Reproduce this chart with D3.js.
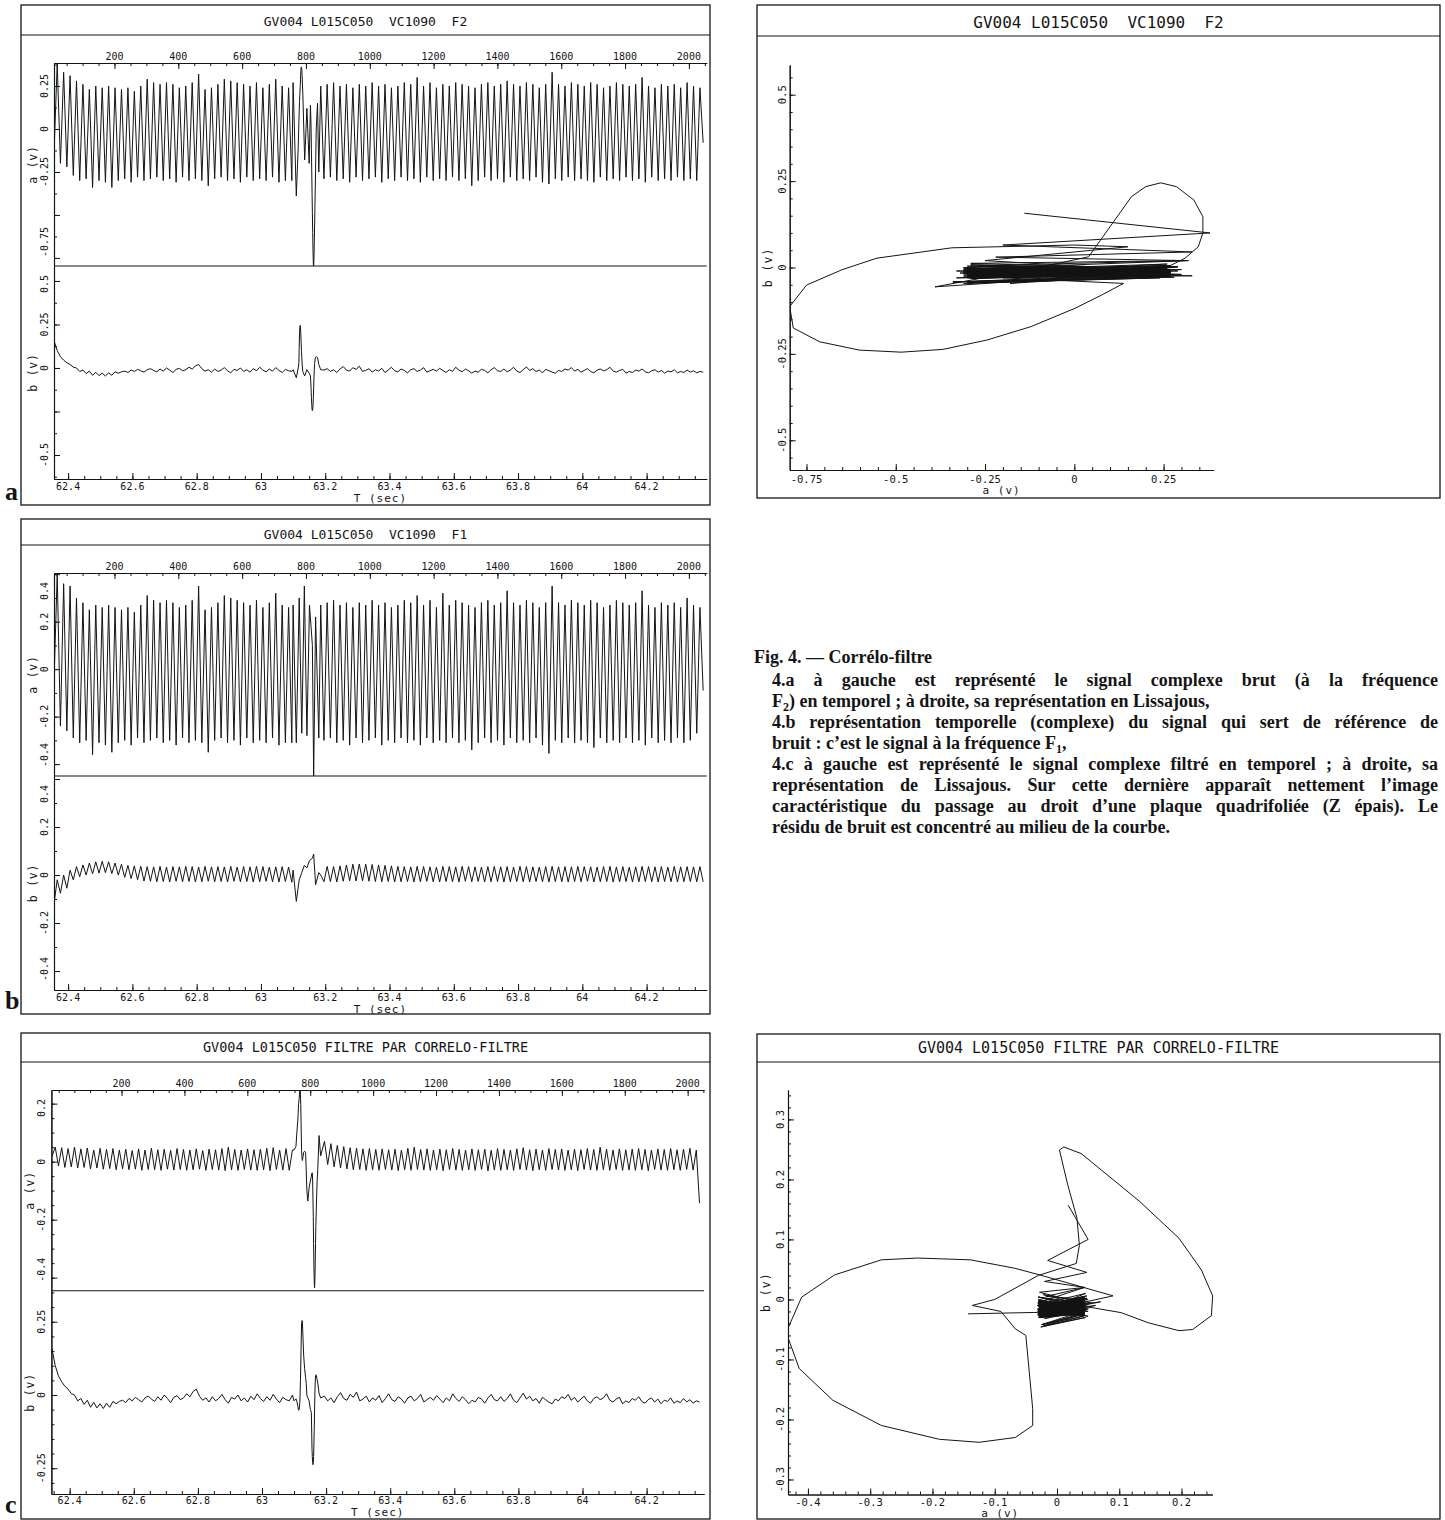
<!DOCTYPE html>
<html><head><meta charset="utf-8">
<script src="https://cdn.jsdelivr.net/npm/d3@7"></script>
<style>
body{margin:0;background:#fff;}
svg{display:block;}
.mono{font-family:"DejaVu Sans Mono","Liberation Mono",monospace;fill:#141414;}
</style></head><body>
<script>
// ================= DATA =================
const GRID_START_AB = 62.356, GRID_START_C = 62.345, GRID_STEP = 0.01;

// ---- 4.a : raw complex signal at F2 ----
const aF2Start = -0.14;
const aF2Peaks = [0.38,0.33,0.31,0.28,0.26,0.23,0.25,0.24,0.25,0.24,
 0.23,0.24,0.22,0.25,0.29,0.27,0.26,0.27,0.26,0.24,
 0.25,0.27,0.32,0.23,0.24,0.26,0.29,0.28,0.27,0.26,
 0.25,0.27,0.24,0.26,0.29,0.25,0.24,0.27,0.25,0.25,
 0.25,0.25,0.26,0.27,0.25,0.26,0.24,0.26,0.25,0.27,
 0.25,0.26,0.24,0.25,0.27,0.26,0.30,0.25,0.27,0.24,
 0.26,0.25,0.27,0.26,0.25,0.24,0.26,0.27,0.25,0.26,
 0.28,0.26,0.25,0.27,0.26,0.24,0.26,0.33,0.26,0.25,
 0.27,0.26,0.25,0.27,0.26,0.24,0.25,0.27,0.26,0.25,
 0.26,0.30,0.25,0.24,0.26,0.25,0.26,0.24,0.27,0.25,0.24];
const aF2Troughs = [-0.20,-0.22,-0.27,-0.30,-0.29,-0.34,-0.30,-0.31,-0.34,-0.30,
 -0.29,-0.31,-0.28,-0.30,-0.29,-0.28,-0.30,-0.29,-0.31,-0.28,
 -0.30,-0.29,-0.30,-0.33,-0.29,-0.28,-0.30,-0.29,-0.31,-0.28,
 -0.30,-0.29,-0.30,-0.28,-0.31,-0.30,-0.30,-0.30,-0.30,-0.30,
 -0.30,-0.29,-0.28,-0.30,-0.29,-0.31,-0.28,-0.30,-0.29,-0.28,
 -0.31,-0.29,-0.30,-0.28,-0.30,-0.29,-0.31,-0.28,-0.30,-0.29,
 -0.30,-0.28,-0.30,-0.29,-0.33,-0.30,-0.28,-0.30,-0.29,-0.31,
 -0.28,-0.30,-0.29,-0.30,-0.28,-0.31,-0.32,-0.29,-0.30,-0.28,
 -0.30,-0.29,-0.30,-0.31,-0.28,-0.30,-0.29,-0.30,-0.28,-0.30,
 -0.29,-0.31,-0.28,-0.30,-0.29,-0.30,-0.28,-0.30,-0.29,-0.30,-0.08];
const bF2 = [0.157,0.10,0.065,0.045,0.03,0.02,0.005,0,-0.02,-0.012,
 -0.032,-0.018,-0.042,-0.025,-0.044,-0.03,-0.046,-0.028,-0.042,-0.022,
 -0.03,-0.022,-0.018,-0.026,-0.012,-0.02,-0.008,-0.016,-0.024,-0.01,
 -0.004,-0.014,-0.022,-0.006,-0.018,0,-0.012,-0.026,-0.008,-0.002,
 -0.016,-0.01,0.004,-0.006,0.012,0.02,-0.004,-0.018,-0.01,-0.024,
 -0.006,-0.02,-0.012,0.002,-0.016,-0.028,-0.008,-0.014,0,-0.02,
 -0.01,-0.024,-0.004,-0.016,0.004,-0.012,-0.022,-0.006,-0.018,0.002,
 -0.014,-0.026,-0.008,-0.016,-0.02,0,0,0,0,0,
 0,0,0,0,-0.012,-0.004,-0.02,-0.01,-0.026,-0.006,
 0.008,-0.012,-0.018,0.002,-0.008,0.01,-0.02,-0.014,-0.004,-0.024,
 -0.01,-0.018,-0.002,-0.026,-0.012,0.004,-0.016,-0.022,-0.006,-0.014,
 -0.028,-0.01,-0.004,-0.02,-0.012,0.002,-0.024,-0.016,-0.008,-0.018,
 -0.002,-0.014,-0.026,-0.01,-0.02,0.004,-0.012,-0.022,-0.006,-0.016,
 -0.03,-0.018,-0.024,-0.008,-0.014,-0.028,-0.01,0.002,-0.016,-0.02,
 -0.006,-0.022,-0.012,0.004,-0.018,-0.026,-0.01,0.006,-0.014,-0.004,
 -0.02,-0.012,-0.028,-0.008,-0.016,-0.024,-0.03,-0.014,-0.02,-0.006,
 -0.012,0.002,-0.018,-0.008,-0.024,-0.014,-0.004,-0.02,-0.028,-0.012,
 -0.006,-0.016,-0.01,0.004,-0.018,-0.024,-0.014,-0.008,-0.03,-0.02,
 -0.026,-0.012,-0.018,-0.006,-0.022,-0.028,-0.016,-0.01,-0.024,-0.014,
 -0.03,-0.018,-0.022,-0.01,-0.028,-0.02,-0.026,-0.012,-0.024,-0.016,
 -0.028,-0.02,-0.024];
const evF2T = [63.100,63.110,63.116,63.118,63.119,63.120,63.121,63.122,63.123,63.124,63.125,63.126,63.127,63.128,63.130,63.136,63.143,63.150,63.154,63.155,63.156,63.157,63.158,63.159,63.160,63.161,63.162,63.163,63.164,63.165,63.166,63.167,63.169,63.172,63.176,63.180,63.186];
const evF2A = [0.27,-0.39,-0.10,0.04,0.10,0.16,0.20,0.242,0.286,0.335,0.36,0.36,0.347,0.31,0.22,-0.18,0.12,-0.2,0.138,0.076,0.002,-0.121,-0.245,-0.368,-0.485,-0.602,-0.713,-0.787,-0.797,-0.75,-0.652,-0.553,-0.343,0,0.15,-0.25,0.25];
const evF2B = [-0.01,-0.056,0,0.031,0.118,0.205,0.234,0.245,0.234,0.195,0.147,0.10,0.06,0.027,-0.02,-0.046,-0.01,-0.03,-0.046,-0.08,-0.118,-0.171,-0.21,-0.237,-0.245,-0.239,-0.215,-0.175,-0.113,-0.051,-0.007,0.027,0.057,0.065,0.06,0.02,-0.01];

// ---- 4.b : noise reference signal at F1 ----
const aF1Start = -0.05;
const aF1Peaks = [0.40,0.36,0.35,0.30,0.28,0.25,0.27,0.26,0.27,0.26,
 0.25,0.26,0.24,0.27,0.31,0.29,0.28,0.29,0.28,0.26,
 0.27,0.29,0.35,0.25,0.26,0.28,0.31,0.30,0.29,0.28,
 0.27,0.29,0.26,0.28,0.32,0.27,0.26,0.29,0.27,0.27,
 0.27,0.27,0.28,0.29,0.27,0.28,0.26,0.28,0.27,0.29,
 0.27,0.28,0.26,0.27,0.29,0.28,0.31,0.27,0.29,0.26,
 0.32,0.27,0.29,0.28,0.27,0.26,0.28,0.29,0.27,0.28,
 0.33,0.28,0.27,0.29,0.28,0.26,0.28,0.35,0.28,0.27,
 0.29,0.28,0.27,0.29,0.28,0.26,0.27,0.29,0.28,0.27,
 0.28,0.33,0.27,0.26,0.28,0.27,0.28,0.26,0.30,0.27,0.26];
const aF1Troughs = [-0.24,-0.26,-0.29,-0.31,-0.30,-0.36,-0.31,-0.32,-0.35,-0.31,
 -0.30,-0.32,-0.29,-0.31,-0.30,-0.29,-0.31,-0.30,-0.32,-0.29,
 -0.31,-0.30,-0.31,-0.35,-0.30,-0.29,-0.31,-0.30,-0.32,-0.29,
 -0.31,-0.30,-0.31,-0.29,-0.32,-0.31,-0.31,-0.31,-0.31,-0.31,
 -0.31,-0.30,-0.29,-0.31,-0.30,-0.32,-0.29,-0.31,-0.30,-0.29,
 -0.32,-0.30,-0.31,-0.29,-0.31,-0.30,-0.32,-0.29,-0.31,-0.30,
 -0.31,-0.29,-0.31,-0.30,-0.34,-0.31,-0.29,-0.31,-0.30,-0.32,
 -0.29,-0.31,-0.30,-0.31,-0.29,-0.32,-0.355,-0.30,-0.31,-0.29,
 -0.31,-0.30,-0.31,-0.33,-0.29,-0.31,-0.30,-0.31,-0.29,-0.31,
 -0.30,-0.32,-0.29,-0.31,-0.30,-0.31,-0.29,-0.31,-0.30,-0.27,-0.09];
const bF1 = [-0.12,-0.02,-0.076,0,-0.055,0.02,-0.02,0.035,-0.007,0.042,
 0,0.05,0.005,0.055,0.008,0.057,0.01,0.055,0.006,0.05,
 0,0.045,-0.01,0.04,-0.015,0.038,-0.02,0.036,-0.025,0.035,
 -0.026,0.034,-0.028,0.036,-0.027,0.033,-0.029,0.035,-0.026,0.034,
 -0.028,0.036,-0.027,0.035,-0.029,0.033,-0.028,0.036,-0.026,0.034,
 -0.028,0.035,-0.027,0.034,-0.029,0.036,-0.026,0.033,-0.028,0.035,
 -0.027,0.034,-0.029,0.036,-0.028,0.035,-0.026,0.033,-0.028,0.034,
 -0.029,0.035,-0.027,0.033,-0.03,0,0,0,0,0,
 0,0,0,0,-0.028,0.036,-0.027,0.035,-0.029,0.038,
 -0.026,0.042,-0.024,0.045,-0.025,0.046,-0.024,0.045,-0.026,0.044,
 -0.027,0.042,-0.028,0.04,-0.027,0.038,-0.029,0.036,-0.028,0.035,
 -0.027,0.034,-0.029,0.036,-0.028,0.035,-0.026,0.034,-0.028,0.033,
 -0.029,0.036,-0.027,0.035,-0.028,0.034,-0.029,0.036,-0.026,0.035,
 -0.028,0.034,-0.027,0.033,-0.029,0.035,-0.028,0.036,-0.027,0.034,
 -0.029,0.035,-0.028,0.033,-0.027,0.036,-0.028,0.035,-0.029,0.034,
 -0.027,0.033,-0.028,0.035,-0.029,0.036,-0.027,0.034,-0.028,0.035,
 -0.029,0.034,-0.027,0.036,-0.028,0.035,-0.026,0.034,-0.029,0.033,
 -0.028,0.035,-0.027,0.036,-0.029,0.034,-0.028,0.035,-0.027,0.033,
 -0.029,0.034,-0.028,0.036,-0.027,0.035,-0.028,0.034,-0.029,0.035,
 -0.027,0.033,-0.028,0.036,-0.029,0.034,-0.028,0.035,-0.027,0.034,
 -0.028,0.035,-0.028];
const evF1T = [63.100,63.110,63.119,63.127,63.135,63.143,63.151,63.160,63.164,63.170,63.180];
const evF1A = [0.27,-0.31,0.30,-0.27,0.35,-0.28,0.27,0.10,-0.45,0.22,-0.29];
const evF1B = [0.02,-0.11,-0.02,0.01,0.04,0.03,0.06,0.07,0.087,-0.04,0.01];

// ---- 4.c : filtered signal (b channel read as in 4.a) ----
const aCStart = 0.018;
const aCPeaks = [0.05,0.048,0.045,0.05,0.044,0.047,0.04,0.046,0.042,0.045,
 0.04,0.043,0.038,0.044,0.04,0.046,0.041,0.043,0.039,0.045,
 0.042,0.04,0.044,0.038,0.043,0.041,0.045,0.05,0.042,0.04,
 0.044,0.041,0.043,0.046,0.048,0.04,0.045,0.04,0.04,0.04,
 0.04,0.08,
 0.07,0.062,0.056,0.052,0.048,0.046,0.044,0.045,0.042,0.044,
 0.041,0.043,0.04,0.046,0.05,0.042,0.044,0.04,0.043,0.041,
 0.045,0.042,0.04,0.044,0.041,0.043,0.039,0.045,0.042,0.04,
 0.044,0.048,0.041,0.043,0.04,0.045,0.042,0.044,0.04,0.043,
 0.041,0.045,0.042,0.05,0.043,0.04,0.044,0.041,0.043,0.045,
 0.042,0.04,0.044,0.042,0.045,0.041,0.043,0.046,0.04];
const aCTroughs = [-0.015,-0.02,-0.018,-0.022,-0.02,-0.025,-0.022,-0.026,-0.024,-0.028,
 -0.025,-0.028,-0.026,-0.03,-0.027,-0.028,-0.03,-0.026,-0.029,-0.027,
 -0.03,-0.028,-0.026,-0.03,-0.027,-0.029,-0.031,-0.028,-0.03,-0.027,
 -0.029,-0.03,-0.028,-0.031,-0.027,-0.029,-0.03,-0.03,-0.03,-0.03,
 -0.03,-0.005,-0.01,-0.018,-0.022,-0.025,-0.028,-0.027,-0.03,-0.028,
 -0.03,-0.027,-0.029,-0.031,-0.028,-0.03,-0.027,-0.029,-0.03,-0.028,
 -0.031,-0.027,-0.029,-0.03,-0.028,-0.03,-0.027,-0.032,-0.029,-0.03,
 -0.028,-0.03,-0.027,-0.029,-0.031,-0.028,-0.03,-0.027,-0.029,-0.03,
 -0.028,-0.031,-0.027,-0.029,-0.03,-0.028,-0.03,-0.027,-0.03,-0.029,
 -0.03,-0.028,-0.031,-0.027,-0.029,-0.03,-0.028,-0.03,-0.027,-0.029,-0.143];
const evCT = [63.100,63.106,63.109,63.112,63.114,63.116,63.118,63.119,63.120,63.121,63.122,63.1235,63.125,63.126,63.128,63.130,63.133,63.136,63.138,63.140,63.143,63.147,63.151,63.154,63.156,63.157,63.158,63.159,63.160,63.161,63.162,63.163,63.164,63.165,63.166,63.167,63.168,63.170,63.172,63.174,63.178,63.183];
const evCA = [0.04,0.053,0.103,0.147,0.196,0.218,0.248,0.25,0.232,0.196,0.132,0.039,0.011,0.004,0.017,0.032,0.036,0.031,-0.03,-0.10,-0.136,-0.09,-0.067,-0.05,-0.039,-0.039,-0.067,-0.125,-0.189,-0.282,-0.36,-0.414,-0.435,-0.41,-0.357,-0.282,-0.224,-0.139,-0.068,-0.028,0.09,0.02];
const evCB = [-0.02,-0.013,-0.022,-0.039,-0.052,-0.05,-0.027,0.006,0.049,0.102,0.164,0.243,0.254,0.249,0.192,0.136,0.09,0.06,0.04,0,-0.01,-0.02,-0.049,-0.06,-0.182,-0.21,-0.23,-0.238,-0.233,-0.21,-0.168,-0.115,-0.055,0.004,0.041,0.066,0.069,0.066,0.052,0.041,0.006,-0.01];

// ---- ticks & labels ----
const timeTicks = [62.4,62.6,62.8,63,63.2,63.4,63.6,63.8,64,64.2];
const sampleTicks = [200,400,600,800,1000,1200,1400,1600,1800,2000];
const titleAB = "GV004 L015C050  VC1090  F2";
const titleF1 = "GV004 L015C050  VC1090  F1";
const titleC = "GV004 L015C050 FILTRE PAR CORRELO-FILTRE";
const captionTitle = "Fig. 4. \u2014 Corr\u00e9lo-filtre";
const captionLines = [
 ["4.a \u00e0 gauche est repr\u00e9sent\u00e9 le signal complexe brut (\u00e0 la fr\u00e9quence", true],
 ["F_2) en temporel ; \u00e0 droite, sa repr\u00e9sentation en Lissajous,", false],
 ["4.b repr\u00e9sentation temporelle (complexe) du signal qui sert de r\u00e9f\u00e9rence de", true],
 ["bruit : c\u2019est le signal \u00e0 la fr\u00e9quence F_1,", false],
 ["4.c \u00e0 gauche est repr\u00e9sent\u00e9 le signal complexe filtr\u00e9 en temporel ; \u00e0 droite, sa", true],
 ["repr\u00e9sentation de Lissajous. Sur cette derni\u00e8re appara\u00eet nettement l\u2019image", true],
 ["caract\u00e9ristique du passage au droit d\u2019une plaque quadrifoli\u00e9e (Z \u00e9pais). Le", true],
 ["r\u00e9sidu de bruit est concentr\u00e9 au milieu de la courbe.", false]
];

// ================= DRAWING =================
const INK = '#141414';
const svg = d3.select('body').append('svg').attr('width',1445).attr('height',1520);
svg.append('rect').attr('width',1445).attr('height',1520).attr('fill','#fff');

function buildSeries(start, peaks, troughs, bArr, g0, evT, evA, evB){
  const out = [];
  const lo = evT[0]-0.002, hi = evT[evT.length-1]+0.002;
  let inserted = false;
  for (let k=0;k<bArr.length;k++){
    const t = g0 + k*GRID_STEP;
    const a = k===0 ? start : (k%2 ? peaks[(k-1)/2] : troughs[k/2-1]);
    if (t>=lo && t<=hi){
      if(!inserted){ evT.forEach((tt,i)=>out.push({t:tt,a:evA[i],b:evB[i]})); inserted=true; }
      continue;
    }
    out.push({t, a, b:bArr[k]});
  }
  return out;
}
const serF2 = buildSeries(aF2Start, aF2Peaks, aF2Troughs, bF2, GRID_START_AB, evF2T, evF2A, evF2B);
const serF1 = buildSeries(aF1Start, aF1Peaks, aF1Troughs, bF1, GRID_START_AB, evF1T, evF1A, evF1B);
const serC  = buildSeries(aCStart, aCPeaks, aCTroughs, bF2, GRID_START_C, evCT, evCA, evCB);

const fmt = v => String(+v.toFixed(4));
function steps(dom, step){
  const lo=Math.min(dom[0],dom[1]), hi=Math.max(dom[0],dom[1]);
  return d3.range(Math.ceil(lo/step-1e-9), Math.floor(hi/step+1e-9)+1).map(i=>+(i*step).toFixed(6));
}
function styleAxis(g){
  g.selectAll('path').attr('stroke',INK).attr('stroke-width',1.1);
  g.selectAll('line').attr('stroke',INK).attr('stroke-width',1);
  g.selectAll('text').remove();
  return g;
}
function monoText(g, x, y, s, fs, extra){
  const t = g.append('text').attr('class','mono').attr('x',x).attr('y',y)
    .attr('text-anchor','middle').attr('dominant-baseline','central')
    .attr('font-size',fs).style('white-space','pre').text(s);
  if(extra) extra(t);
  return t;
}
function rotText(g, x, y, s, fs, ls){
  return g.append('text').attr('class','mono').attr('transform',`translate(${x},${y}) rotate(-90)`)
    .attr('text-anchor','middle').attr('dominant-baseline','central')
    .attr('font-size',fs).attr('letter-spacing',ls||0).style('white-space','pre').text(s);
}
function frame(x0,y0,x1,y1,sepY,titleY,title,fs){
  const g = svg.append('g');
  g.append('rect').attr('x',x0).attr('y',y0).attr('width',x1-x0).attr('height',y1-y0)
    .attr('fill','none').attr('stroke',INK).attr('stroke-width',1.3);
  g.append('line').attr('x1',x0).attr('x2',x1).attr('y1',sepY).attr('y2',sepY).attr('stroke',INK).attr('stroke-width',1.2);
  monoText(g,(x0+x1)/2,titleY,title,fs);
}
function yLabels(g, scale, vals, x, top, bot){
  vals.forEach(v=>{
    const s = fmt(v); const half = s.length*3.01;
    let cy = scale(v);
    cy = Math.max(top+half+9, Math.min(bot-half-9, cy));
    rotText(g, x, cy, s, 10);
  });
}
let clipId = 0;
function clipRect(x0,y0,x1,y1){
  const id = 'clip'+(clipId++);
  svg.append('clipPath').attr('id',id).append('rect').attr('x',x0).attr('y',y0).attr('width',x1-x0).attr('height',y1-y0);
  return `url(#${id})`;
}

function timePanel(c){
  const g = svg.append('g');
  const x = d3.scaleLinear().domain(c.tDom).range([c.x0,c.x1]);
  const xs = d3.scaleLinear().domain(c.sDom).range([c.x0,c.x1]);
  const ya = d3.scaleLinear().domain(c.aDom).range([c.div,c.top]);
  const yb = d3.scaleLinear().domain(c.bDom).range([c.bot,c.div]);
  const put = (tr, ax) => styleAxis(g.append('g').attr('transform',tr).call(ax));
  put(`translate(0,${c.top})`, d3.axisTop(xs).tickValues(steps(c.sDom,50)).tickSizeInner(-3).tickSizeOuter(0).tickFormat(''));
  put(`translate(0,${c.top})`, d3.axisTop(xs).tickValues(sampleTicks).tickSizeInner(-6).tickSizeOuter(0).tickFormat(''));
  put(`translate(0,${c.bot})`, d3.axisBottom(x).tickValues(steps(c.tDom,0.05)).tickSizeInner(-3).tickSizeOuter(0).tickFormat(''));
  put(`translate(0,${c.bot})`, d3.axisBottom(x).tickValues(timeTicks).tickSizeInner(-6).tickSizeOuter(0).tickFormat(''));
  put(`translate(${c.x0},0)`, d3.axisLeft(ya).tickValues(steps(c.aDom,c.aMinor)).tickSizeInner(-3).tickSizeOuter(0).tickFormat(''));
  put(`translate(${c.x0},0)`, d3.axisLeft(ya).tickValues(c.aMajor).tickSizeInner(-6).tickSizeOuter(0).tickFormat(''));
  put(`translate(${c.x0},0)`, d3.axisLeft(yb).tickValues(steps(c.bDom,c.bMinor)).tickSizeInner(-3).tickSizeOuter(0).tickFormat(''));
  put(`translate(${c.x0},0)`, d3.axisLeft(yb).tickValues(c.bMajor).tickSizeInner(-6).tickSizeOuter(0).tickFormat(''));
  g.append('line').attr('x1',c.x0).attr('x2',c.x1).attr('y1',c.div).attr('y2',c.div).attr('stroke',INK).attr('stroke-width',1.1);
  sampleTicks.forEach(v=>monoText(g, xs(v), c.top-7, String(v), 10));
  timeTicks.forEach(v=>monoText(g, x(v), c.bot+c.lblDy, fmt(v), 10));
  monoText(g,(c.x0+c.x1)/2, c.bot+c.tsecDy, 'T (sec)', 11, t=>t.attr('letter-spacing',1));
  yLabels(g, ya, c.aLabels, c.x0-10, c.top, c.div);
  yLabels(g, yb, c.bLabels, c.x0-10, c.div, c.bot);
  rotText(g, c.x0-21, (c.top+c.div)/2, 'a (v)', 11.5, 0.8);
  rotText(g, c.x0-21, (c.div+c.bot)/2, 'b (v)', 11.5, 0.8);
  g.append('path').datum(c.data).attr('clip-path',clipRect(c.x0,c.top,c.x1,c.div))
    .attr('fill','none').attr('stroke',INK).attr('stroke-width',1).attr('stroke-linejoin','round')
    .attr('d', d3.line().x(d=>x(d.t)).y(d=>ya(d.a)));
  g.append('path').datum(c.data).attr('clip-path',clipRect(c.x0,c.div,c.x1,c.bot))
    .attr('fill','none').attr('stroke',INK).attr('stroke-width',1).attr('stroke-linejoin','round')
    .attr('d', d3.line().x(d=>x(d.t)).y(d=>yb(d.b)));
}

function lissPanel(c){
  const g = svg.append('g');
  const x = d3.scaleLinear().domain(c.xDom).range([c.x0,c.x1]);
  const y = d3.scaleLinear().domain(c.yDom).range([c.bot,c.top]);
  const put = (tr, ax) => styleAxis(g.append('g').attr('transform',tr).call(ax));
  put(`translate(0,${c.bot})`, d3.axisBottom(x).tickValues(steps(c.xDom,c.xMinor)).tickSizeInner(-3).tickSizeOuter(0).tickFormat(''));
  put(`translate(0,${c.bot})`, d3.axisBottom(x).tickValues(c.xMajor).tickSizeInner(-6).tickSizeOuter(0).tickFormat(''));
  put(`translate(${c.x0},0)`, d3.axisLeft(y).tickValues(steps(c.yDom,c.yMinor)).tickSizeInner(-3).tickSizeOuter(0).tickFormat(''));
  put(`translate(${c.x0},0)`, d3.axisLeft(y).tickValues(c.yMajor).tickSizeInner(-6).tickSizeOuter(0).tickFormat(''));
  c.xMajor.forEach(v=>monoText(g, x(v), c.bot+c.lblDy, fmt(v), 10.5));
  monoText(g,(c.x0+c.x1)/2, c.bot+c.axDy, 'a (v)', 11, t=>t.attr('letter-spacing',1));
  c.yMajor.forEach(v=>rotText(g, c.x0-8, y(v), fmt(v), 10.5));
  rotText(g, c.x0-22, (c.top+c.bot)/2, 'b (v)', 11.5, 1);
  g.append('path').datum(c.data).attr('clip-path',clipRect(c.x0,c.top-2,c.x1+4,c.bot))
    .attr('fill','none').attr('stroke',INK).attr('stroke-width',1).attr('stroke-linejoin','round')
    .attr('d', d3.line().x(d=>x(d.a)).y(d=>y(d.b)));
}

// ---- frames ----
frame(21,5,710,505,35,21,titleAB,13);
frame(21,519,710,1014,545,534,titleF1,13);
frame(21,1033,710,1519,1062,1047,titleC,13.5);
frame(757,5,1440,498,36,22,titleAB,16);
frame(757,1034,1440,1519,1062,1048,titleC,15);

// ---- time panels ----
timePanel({x0:54,x1:706.7,top:63,div:266,bot:479,lblDy:7.5,tsecDy:19,tDom:[62.356,64.387],sDom:[10.4,2055.8],
  aDom:[-0.797,0.384],bDom:[-0.638,0.586],aMajor:[0.25,0,-0.25,-0.5,-0.75],aMinor:0.125,aLabels:[0.25,0,-0.25,-0.75],
  bMajor:[0.5,0.25,0,-0.25,-0.5],bMinor:0.125,bLabels:[0.5,0.25,0,-0.5],data:serF2});
timePanel({x0:54,x1:706.7,top:573,div:776,bot:990,lblDy:7.5,tsecDy:19,tDom:[62.356,64.387],sDom:[10.4,2055.8],
  aDom:[-0.45,0.405],bDom:[-0.479,0.4125],aMajor:[0.4,0.2,0,-0.2,-0.4],aMinor:0.1,aLabels:[0.4,0.2,0,-0.2,-0.4],
  bMajor:[0.4,0.2,0,-0.2,-0.4],bMinor:0.1,bLabels:[0.4,0.2,0,-0.2,-0.4],data:serF1});
timePanel({x0:51.4,x1:704,top:1090,div:1290.7,bot:1494,lblDy:6.5,tsecDy:18.5,tDom:[62.343,64.379],sDom:[-23,2052],
  aDom:[-0.445,0.247],bDom:[-0.338,0.356],aMajor:[0.2,0,-0.2,-0.4],aMinor:0.05,aLabels:[0.2,0,-0.2,-0.4],
  bMajor:[0.25,0,-0.25],bMinor:0.05,bLabels:[0.25,0,-0.25],data:serC});

// ---- Lissajous panels ----
lissPanel({x0:789.7,x1:1213.6,top:65,bot:470,lblDy:9,axDy:20,xDom:[-0.797,0.39],yDom:[-0.586,0.586],
  xMajor:[-0.75,-0.5,-0.25,0,0.25],xMinor:0.05,yMajor:[0.5,0.25,0,-0.25,-0.5],yMinor:0.05,data:serF2});
lissPanel({x0:788,x1:1212.4,top:1090,bot:1494.5,lblDy:7,axDy:18.8,xDom:[-0.432,0.2496],yDom:[-0.325,0.349],
  xMajor:[-0.4,-0.3,-0.2,-0.1,0,0.1,0.2],xMinor:0.02,yMajor:[0.3,0.2,0.1,0,-0.1,-0.2,-0.3],yMinor:0.02,data:serC});

// ---- panel letters ----
[['a',500],['b',1009],['c',1513]].forEach(([s,y])=>{
  svg.append('text').attr('x',5).attr('y',y).attr('font-family','"Liberation Serif",serif')
    .attr('font-weight','bold').attr('font-size',26).attr('fill',INK).text(s);
});

// ---- caption ----
(function(){
  const X0 = 772, X1 = 1438, TARGET = X1-X0;
  const cap = svg.append('g').attr('font-family','"Liberation Serif","Times New Roman",serif')
    .attr('font-weight','bold').attr('font-size',18).attr('fill',INK);
  function addLine(g, str, x, y){
    const t = g.append('text').attr('x',x).attr('y',y).style('white-space','pre');
    let shift = 0;
    str.split(/(_\d)/).forEach(part=>{
      if(part==='') return;
      if(/^_\d$/.test(part)){ t.append('tspan').attr('font-size',12).attr('dy',4).text(part[1]); shift=4; }
      else { t.append('tspan').attr('dy',-shift).text(part); shift=0; }
    });
    return t;
  }
  const probe = addLine(cap, captionLines[4][0], 0, -100);
  const w = probe.node().getComputedTextLength();
  probe.remove();
  const cf = Math.min(1, (TARGET-2)/w);
  const inner = cap.append('g').attr('transform',`translate(${X0},0) scale(${cf},1)`);
  addLine(inner, captionTitle, (754-X0)/cf, 663);
  captionLines.forEach(([s,just],i)=>{
    const t = addLine(inner, s, 0, 686+21*i);
    if(just){
      const nat = t.node().getComputedTextLength();
      const sp = (s.match(/ /g)||[]).length;
      t.attr('word-spacing', (TARGET/cf - nat)/sp);
    }
  });
})();
</script>
</body></html>
